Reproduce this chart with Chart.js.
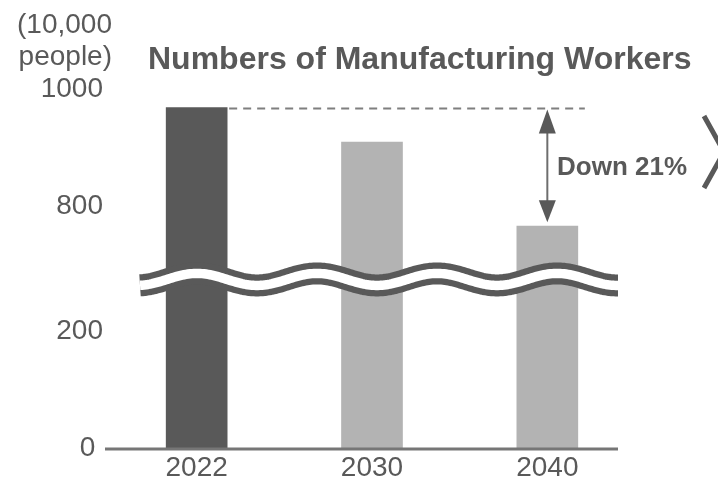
<!DOCTYPE html>
<html>
<head>
<meta charset="utf-8">
<script src="https://cdn.jsdelivr.net/npm/chart.js@4/dist/chart.umd.min.js"></script>
<style>
  html, body { margin: 0; padding: 0; background: #fff; }
</style>
</head>
<body>
<canvas id="workers-chart" width="718" height="481"></canvas>
<script>
const years = ["2022", "2030", "2040"];
const workers = [970, 911, 767]; // 10,000 people
const yTickValues = [0, 200, 800, 1000];
const barColors = ["#595959", "#b3b3b3", "#b3b3b3"];

// broken axis: values between breakLow and breakHigh are squeezed into breakSpace
const breakLow = 258;
const breakHigh = 708;
const breakSpace = 64;

function toAxis(v) {
  if (v <= breakLow) return v;
  if (v >= breakHigh) return v - (breakHigh - breakLow) + breakSpace;
  return breakLow + (v - breakLow) / (breakHigh - breakLow) * breakSpace;
}

const textColor = "#595959";
const font = "'Liberation Sans', Arial, sans-serif";

const decorations = {
  id: "decorations",
  afterDatasetsDraw(chart) {
    const ctx = chart.ctx;
    const yScale = chart.scales.y;
    const bars = chart.getDatasetMeta(0).data;
    const base = yScale.getPixelForValue(0);

    ctx.save();

    // baseline
    ctx.strokeStyle = "#767676";
    ctx.lineWidth = 3;
    ctx.beginPath();
    ctx.moveTo(105, base);
    ctx.lineTo(618, base);
    ctx.stroke();

    // wave break
    const yc = yScale.getPixelForValue(breakLow + breakSpace / 2);
    const wave = () => {
      ctx.beginPath();
      for (let x = 140; x <= 618; x += 2) {
        const yy = yc - 6 * Math.cos(2 * Math.PI * (x - 197) / 120);
        if (x === 140) ctx.moveTo(x, yy); else ctx.lineTo(x, yy);
      }
      ctx.stroke();
    };
    ctx.lineCap = "butt";
    ctx.lineJoin = "round";
    ctx.strokeStyle = "#595959";
    ctx.lineWidth = 22;
    wave();
    ctx.strokeStyle = "#ffffff";
    ctx.lineWidth = 9.5;
    wave();

    // dashed reference line at 2022 level
    const topY = yScale.getPixelForValue(toAxis(workers[0]));
    const lowY = yScale.getPixelForValue(toAxis(workers[2]));
    const b0 = bars[0], b2 = bars[2];
    ctx.strokeStyle = "#7f7f7f";
    ctx.lineWidth = 2;
    ctx.setLineDash([8, 6]);
    ctx.beginPath();
    ctx.moveTo(b0.x + b0.width / 2 + 2, topY + 1);
    ctx.lineTo(b2.x + b2.width / 2 + 7, topY + 1);
    ctx.stroke();
    ctx.setLineDash([]);

    // double arrow
    const ax = b2.x;
    const a1 = topY + 2, a2 = lowY - 4;
    ctx.strokeStyle = "#6e6e6e";
    ctx.lineWidth = 2;
    ctx.beginPath();
    ctx.moveTo(ax, a1 + 20);
    ctx.lineTo(ax, a2 - 20);
    ctx.stroke();
    ctx.fillStyle = "#595959";
    ctx.beginPath();
    ctx.moveTo(ax, a1);
    ctx.lineTo(ax - 8.5, a1 + 24);
    ctx.lineTo(ax + 8.5, a1 + 24);
    ctx.closePath();
    ctx.fill();
    ctx.beginPath();
    ctx.moveTo(ax, a2);
    ctx.lineTo(ax - 8.5, a2 - 22);
    ctx.lineTo(ax + 8.5, a2 - 22);
    ctx.closePath();
    ctx.fill();

    // chevron at the right edge
    ctx.strokeStyle = "#595959";
    ctx.lineWidth = 5;
    ctx.lineJoin = "miter";
    ctx.beginPath();
    ctx.moveTo(704, 116);
    ctx.lineTo(724, 152);
    ctx.lineTo(704, 188);
    ctx.stroke();

    // texts
    ctx.fillStyle = textColor;
    ctx.textBaseline = "middle";
    ctx.font = "bold 26px " + font;
    ctx.textAlign = "left";
    ctx.fillText("Down 21%", 557, 168);

    ctx.font = "bold 32px " + font;
    ctx.fillText("Numbers of Manufacturing Workers", 148, 60);

    ctx.font = "28px " + font;
    ctx.textAlign = "right";
    ctx.fillText("(10,000", 112, 25);
    ctx.fillText("people)", 112, 57);

    ctx.restore();
  }
};

new Chart(document.getElementById("workers-chart"), {
  type: "bar",
  data: {
    labels: years,
    datasets: [{
      data: workers.map(toAxis),
      backgroundColor: barColors,
      barThickness: 61
    }]
  },
  options: {
    responsive: false,
    animation: false,
    devicePixelRatio: 1,
    layout: { padding: { left: 0, right: 83, top: 80, bottom: 0 } },
    plugins: {
      legend: { display: false },
      tooltip: { enabled: false }
    },
    scales: {
      x: {
        grid: { display: false, drawTicks: false },
        border: { display: false },
        ticks: { color: textColor, font: { family: font, size: 28 }, padding: 2 },
        afterFit(s) { s.height = 32; }
      },
      y: {
        min: 0,
        max: 631,
        grid: { display: false, drawTicks: false },
        border: { display: false },
        afterBuildTicks(s) {
          s.ticks = yTickValues.map(v => ({ value: toAxis(v) }));
        },
        ticks: {
          color: textColor,
          font: { family: font, size: 28 },
          padding: 6,
          labelOffset: -1,
          // the zero label sits a little further left in the original
          callback: (val, i) => yTickValues[i] === 0 ? "0 " : yTickValues[i]
        },
        afterFit(s) { s.width = 109; }
      }
    }
  },
  plugins: [decorations]
});
</script>
</body>
</html>
